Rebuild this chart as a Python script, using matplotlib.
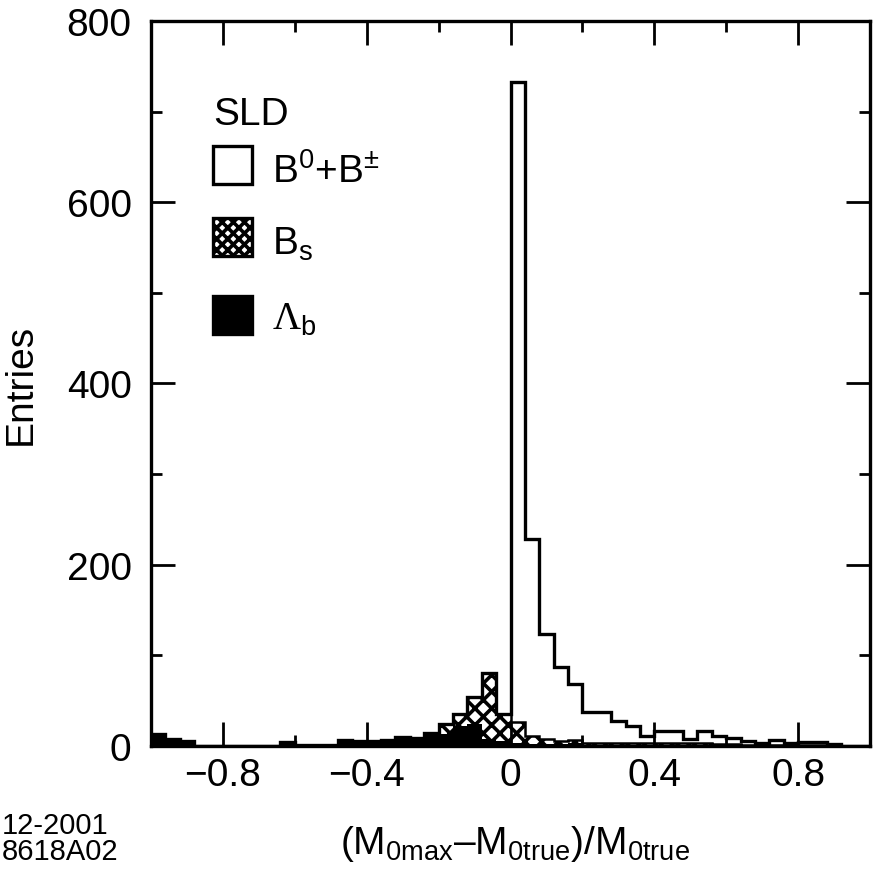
import numpy as np
import matplotlib
matplotlib.use("Agg")
import matplotlib.pyplot as plt
from matplotlib.patches import Rectangle
from matplotlib.ticker import MultipleLocator

plt.rcParams['font.family'] = ['Liberation Sans', 'DejaVu Sans']
plt.rcParams['mathtext.fontset'] = 'custom'
plt.rcParams['mathtext.rm'] = 'Liberation Sans'
plt.rcParams['mathtext.it'] = 'Liberation Sans'
plt.rcParams['mathtext.sf'] = 'Liberation Serif'
plt.rcParams['mathtext.bf'] = 'Liberation Sans:bold'
plt.rcParams['hatch.linewidth'] = 2.6
plt.rcParams['hatch.color'] = 'black'

# 50 bins of width 0.04 from -1 to 1
edges = np.linspace(-1.0, 1.0, 51)

# Lambda_b entries per bin
lam_b = [13, 8, 5, 0, 0, 0, 0, 0, 0, 4,
         1, 1, 1, 7, 5, 5, 7, 9, 8, 12,
         13, 22, 24, 8, 6, 3, 2, 2, 2, 3,
         1, 1, 1, 1, 1, 1, 1, 1, 1, 1,
         1, 0, 0, 0, 0, 0, 0, 0, 0, 0]
# B_s entries per bin
b_s = [0, 0, 0, 0, 0, 0, 0, 0, 0, 0,
       0, 0, 0, 0, 0, 0, 0, 1, 1, 2,
       11, 13, 30, 72, 29, 23, 9, 6, 3, 4,
       2, 2, 2, 2, 2, 2, 2, 2, 2, 1,
       1, 1, 1, 1, 1, 1, 1, 1, 0, 0]
# B0 + B+- entries per bin
b_ud = [0, 0, 0, 0, 0, 0, 0, 0, 0, 0,
        0, 0, 0, 0, 0, 0, 0, 0, 0, 0,
        0, 0, 0, 0, 0, 707, 217, 116, 82, 61,
        35, 35, 25, 19, 8, 14, 14, 5, 14, 9,
        7, 5, 2, 6, 2, 3, 3, 1, 0, 0]

lam_b = np.array(lam_b)
b_s = np.array(b_s)
b_ud = np.array(b_ud)
stack1 = lam_b
stack2 = lam_b + b_s
total = stack2 + b_ud

fig = plt.figure(figsize=(8.73, 8.70), dpi=100)
ax = fig.add_axes([0.173, 0.1414, 0.8236, 0.8333])

ax.stairs(stack2, edges, baseline=stack1, fill=True, facecolor='white',
          edgecolor='black', hatch='xx', linewidth=0)
ax.stairs(stack1, edges, baseline=0, fill=True, color='black', linewidth=0)
ax.stairs(stack2, edges, baseline=0, color='black', linewidth=1.8)
ax.stairs(total, edges, baseline=0, color='black', linewidth=2.4)

ax.set_xlim(-1, 1)
ax.set_ylim(0, 800)
ax.xaxis.set_minor_locator(MultipleLocator(0.2))
ax.yaxis.set_major_locator(MultipleLocator(200))
ax.yaxis.set_minor_locator(MultipleLocator(100))
ax.set_xticks([-0.8, -0.4, 0, 0.4, 0.8])
ax.set_xticklabels(['\u22120.8', '\u22120.4', '0', '0.4', '0.8'])
ax.tick_params(which='both', direction='in', top=True, right=True,
               width=2, labelsize=28)
ax.tick_params(which='major', length=17)
ax.tick_params(which='minor', length=8)
ax.tick_params(axis='y', pad=14)
ax.tick_params(axis='x', pad=8)
for s in ax.spines.values():
    s.set_linewidth(2.4)

ax.set_ylabel('Entries', fontsize=28, labelpad=20)
xlab = '(M$_{\\mathrm{0max}}$\u2013M$_{\\mathrm{0true}}$)/M$_{\\mathrm{0true}}$'
fig.text(0.59, 0.018, xlab, fontsize=28, ha='center', va='baseline')
fig.text(0.002, 0.041, '12-2001', fontsize=21, va='baseline')
fig.text(0.002, 0.011, '8618A02', fontsize=21, va='baseline')

# legend
ax.text(0.086, 0.858, 'SLD', transform=ax.transAxes, fontsize=28)
ax.add_patch(Rectangle((0.086, 0.775), 0.054, 0.052, transform=ax.transAxes,
                       facecolor='white', edgecolor='black', linewidth=2.4))
ax.add_patch(Rectangle((0.086, 0.676), 0.054, 0.052, transform=ax.transAxes,
                       facecolor='white', edgecolor='black', hatch='xxx',
                       linewidth=2.4))
ax.add_patch(Rectangle((0.086, 0.568), 0.054, 0.052, transform=ax.transAxes,
                       facecolor='black', edgecolor='black', linewidth=2.4))
ax.text(0.168, 0.778, r'B$^{0}$+B$^{\pm}$', transform=ax.transAxes, fontsize=28)
ax.text(0.168, 0.679, r'B$_{\mathrm{s}}$', transform=ax.transAxes, fontsize=28)
ax.text(0.168, 0.575, r'$\mathsf{\Lambda}_{\mathrm{b}}$', transform=ax.transAxes,
        fontsize=28)

fig.savefig('out.png', dpi=100)
